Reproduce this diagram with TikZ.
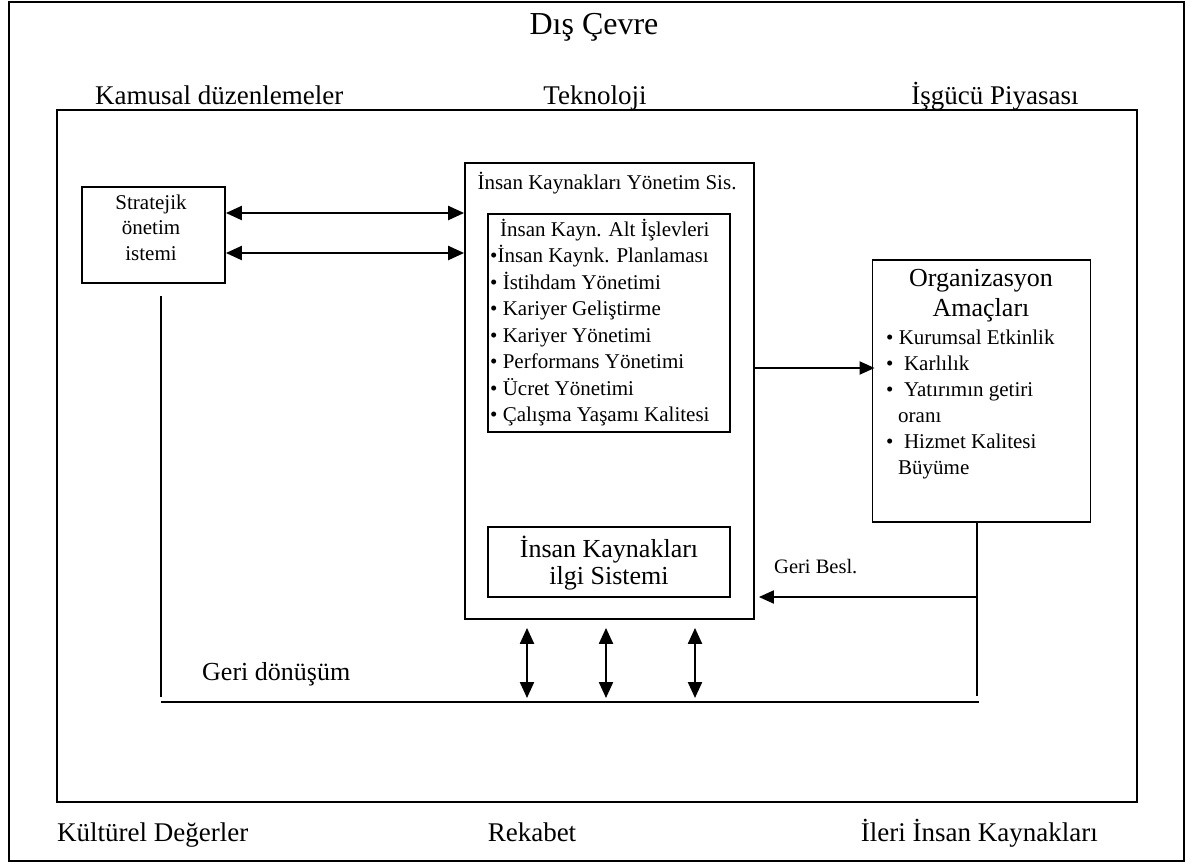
\documentclass[tikz,border=0pt]{standalone}
\usepackage{fontspec}
\setmainfont{Liberation Serif}
\usetikzlibrary{arrows.meta}
\newcommand{\pxfont}[1]{\fontsize{#1}{#1}\selectfont}

\begin{document}
\begin{tikzpicture}[x=1pt,y=-1pt,
  frame/.style={draw,line width=2pt,inner sep=0pt},
  box/.style={draw,line width=1.8pt,inner sep=0pt},
  lbl/.style={inner sep=0pt,font=\pxfont{27}},
  small/.style={inner sep=0pt,font=\pxfont{21}},
  mid/.style={inner sep=0pt,font=\pxfont{26}},
  link/.style={line width=1.6pt},
  dbl/.style={line width=2.2pt,{Triangle[length=16pt,width=14pt]}-{Triangle[length=16pt,width=14pt]}},
  one/.style={line width=2pt,-{Triangle[length=15pt,width=13pt]}}
]
\useasboundingbox (0,0) rectangle (1196,863);
\fill[white] (0,0) rectangle (1196,863);

% frames
\node[frame,minimum width=1175pt,minimum height=859pt] (outer) at (596.5,431.5) {};
\node[frame,minimum width=1080pt,minimum height=692pt] (inner) at (597,456) {};

% environment labels
\node[inner sep=0pt,font=\pxfont{32},anchor=base] (dis) at (594,34) {Dış Çevre};
\node[lbl,anchor=base west] (kam) at (95,104) {Kamusal düzenlemeler};
\node[lbl,anchor=base] (tek) at (595,104) {Teknoloji};
\node[lbl,anchor=base] (isg) at (995,104) {İşgücü Piyasası};
\node[lbl,anchor=base west] (kul) at (57,841) {Kültürel Değerler};
\node[lbl,anchor=base] (rek) at (532,841) {Rekabet};
\node[lbl,anchor=base east] (ile) at (1098,841) {İleri İnsan Kaynakları};

% strategic management box
\node[box,minimum width=143pt,minimum height=96pt] (strat) at (153.5,235) {};
\foreach \t [count=\i] in {Stratejik,önetim,istemi}
  \node[small,anchor=base] (st\i) at (151,{209+25.5*(\i-1)}) {\t};

% HR management system
\node[box,minimum width=289pt,minimum height=456pt] (ik) at (609.5,391) {};
\node[small,anchor=base] (iktitle) at (607,189) {İnsan Kaynakları Yönetim Sis.};

\node[box,minimum width=242pt,minimum height=218pt] (sub) at (609,323) {};
\node[small,anchor=base west] (sub0) at (500,236) {İnsan Kayn. Alt İşlevleri};
\foreach \t [count=\i] in {%
    {•İnsan Kaynk. Planlaması},
    {• İstihdam Yönetimi},
    {• Kariyer Geliştirme},
    {• Kariyer Yönetimi},
    {• Performans Yönetimi},
    {• Ücret Yönetimi},
    {• Çalışma Yaşamı Kalitesi}}
  \node[small,anchor=base west] (sub\i) at (490,{236+26.5*\i}) {\t};

\node[box,minimum width=242pt,minimum height=70pt] (bilgi) at (609,562) {};
\node[mid,anchor=base] (bil1) at (609,557) {İnsan Kaynakları};
\node[mid,anchor=base] (bil2) at (609,584) {ilgi Sistemi};

% organisation goals
\node[box,minimum width=218pt,minimum height=262pt] (org) at (981.5,391) {};
\node[mid,anchor=base] (org1) at (981,286) {Organizasyon};
\node[mid,anchor=base] (org2) at (981,316) {Amaçları};
\node[small,anchor=base west] (og1) at (886,344) {• Kurumsal Etkinlik};
\node[small,anchor=base west] (og2) at (886,370) {•\ \ Karlılık};
\node[small,anchor=base west] (og3) at (886,396) {•\ \ Yatırımın getiri};
\node[small,anchor=base west] (og4) at (898,422) {oranı};
\node[small,anchor=base west] (og5) at (886,448) {•\ \ Hizmet Kalitesi};
\node[small,anchor=base west] (og6) at (898,474) {Büyüme};

% helper points for connectors
\coordinate (h1) at (300,213);
\coordinate (h2) at (300,253);
\coordinate (h3) at (800,368);
\coordinate (fbR) at (977,597);
\coordinate (rv) at (977,696);
\coordinate (lv) at (161,697);
\coordinate (bl) at (161,702);
\coordinate (br) at (979,702);
\coordinate (v1) at (527,702);
\coordinate (v2) at (606,702);
\coordinate (v3) at (695,702);

% connectors
\draw[dbl] (strat.east |- h1) -- (ik.west |- h1);
\draw[dbl] (strat.east |- h2) -- (ik.west |- h2);
\draw[one,shorten >=-3pt] (ik.east |- h3) -- (org.west |- h3);
\draw[one,shorten >=4pt] (fbR) -- (ik.east |- fbR);
\draw[link] (org.south -| rv) -- (rv);
\draw[link,shorten <=12pt] (strat.south -| lv) -- (lv);
\draw[link] (bl) -- (br);
\foreach \v in {v1,v2,v3}
  \draw[dbl,shorten <=8pt,shorten >=4pt] (ik.south -| \v) -- (\v);

% feedback labels
\node[mid,anchor=base west] (geri) at (202,680) {Geri dönüşüm};
\node[inner sep=0pt,font=\pxfont{20.5},anchor=base west] (besl) at (774,573) {Geri Besl.};
\end{tikzpicture}
\end{document}
